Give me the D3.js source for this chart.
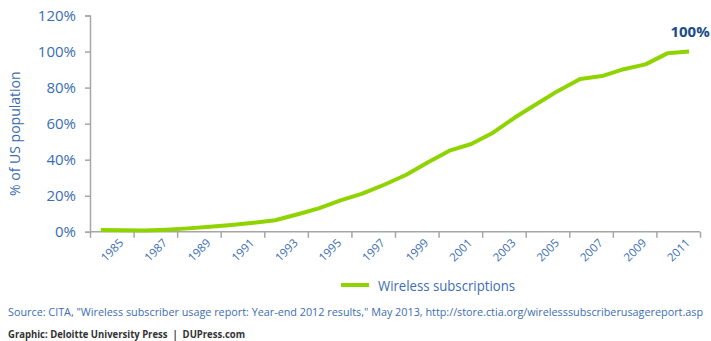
<!DOCTYPE html>
<html>
<head>
<meta charset="utf-8">
<script src="https://cdn.jsdelivr.net/npm/d3@7"></script>
<style>
  html, body { margin: 0; padding: 0; background: #fff; }
  svg { display: block; font-family: "Open Sans", "Noto Sans", sans-serif; }
</style>
</head>
<body>
<svg id="chart" width="711" height="341"></svg>
<script>
// Wireless subscriptions as a share of the US population, year-end figures
const years = d3.range(1985, 2013);
const penetration = [
  1.0, 0.8, 0.7, 1.2, 1.9, 2.8, 3.8, 5.0, 6.4, 9.6,
  13.0, 17.4, 21.2, 26.1, 31.5, 38.4, 45.0, 48.7, 55.0, 63.4,
  70.9, 78.3, 84.8, 86.4, 90.2, 92.9, 99.0, 100.0
];
const yTicks = [0, 20, 40, 60, 80, 100, 120];
const labelYears = d3.range(1985, 2013, 2);
const seriesName = "Wireless subscriptions";
const endLabel = "100%";
const sourceNote = "Source: CITA, \"Wireless subscriber usage report: Year-end 2012 results,\" May 2013, http://store.ctia.org/wirelesssubscriberusagereport.asp";
const creditNote = "Graphic: Deloitte University Press  |  DUPress.com";

const green = "#8fd400";
const blue = "#3b6db3";
const navy = "#1a4c8b";
const axisGray = "#a6a6a6";

const svg = d3.select("#chart");

// Each year occupies one band; points sit at band centres.
const x = d3.scaleLinear().domain([1984.5, 2012.5]).range([90, 700]);
const y = d3.scaleLinear().domain([0, 120]).range([231.8, 15.5]);

// Y axis
const yAxis = svg.append("g")
  .attr("transform", `translate(${x(1984.5)},0)`)
  .call(d3.axisLeft(y).tickValues(yTicks).tickSize(5).tickPadding(9).tickFormat(d => d + "%"));
yAxis.select(".domain").attr("stroke", axisGray).attr("stroke-width", 1.5);
yAxis.selectAll(".tick line").attr("stroke", axisGray).attr("stroke-width", 1.5);
yAxis.selectAll(".tick text")
  .attr("fill", blue).attr("font-size", 15).style("font-family", "'Open Sans', sans-serif");

// Y axis title
svg.append("text")
  .attr("transform", `translate(20,${(y(0) + y(120)) / 2 + 10}) rotate(-90)`)
  .attr("text-anchor", "middle")
  .attr("fill", blue)
  .attr("font-size", 14)
  .text("% of US population");

// X axis: tick marks between two-year groups
const boundaries = d3.range(1984.5, 2013, 2);
const xAxis = svg.append("g")
  .attr("transform", `translate(0,${y(0)})`)
  .call(d3.axisBottom(x).tickValues(boundaries).tickSize(6).tickFormat(""));
xAxis.select(".domain").attr("stroke", axisGray).attr("stroke-width", 1.5)
  .attr("d", `M${x(1984.5)},0H${x(2012.5)}`);
xAxis.selectAll(".tick line").attr("stroke", axisGray).attr("stroke-width", 1.5);

// X labels centred on each two-year group, rotated
svg.append("g").selectAll("text")
  .data(labelYears)
  .join("text")
  .attr("transform", d => `translate(${x(d + 0.5)},${y(0) + 18}) rotate(-45)`)
  .attr("text-anchor", "middle")
  .attr("dominant-baseline", "central")
  .attr("fill", blue)
  .attr("font-size", 11.5)
  .text(d => d);

// Series line
const line = d3.line()
  .x((d, i) => x(years[i]))
  .y(d => y(d));
svg.append("path")
  .datum(penetration)
  .attr("fill", "none")
  .attr("stroke", green)
  .attr("stroke-width", 4)
  .attr("stroke-linejoin", "round")
  .attr("d", line);

// End value label
const lastI = penetration.length - 1;
svg.append("text")
  .attr("x", x(years[lastI]) + 1)
  .attr("y", y(penetration[lastI]) - 15)
  .attr("text-anchor", "middle")
  .attr("fill", navy)
  .attr("font-size", 15)
  .attr("font-weight", "bold")
  .text(endLabel);

// Legend
const legend = svg.append("g").attr("transform", "translate(341,285)");
legend.append("line")
  .attr("x1", 0).attr("x2", 28).attr("y1", 0).attr("y2", 0)
  .attr("stroke", green).attr("stroke-width", 4);
legend.append("text")
  .attr("x", 37).attr("y", 0)
  .attr("dominant-baseline", "central")
  .attr("fill", blue)
  .attr("font-size", 14)
  .attr("textLength", 137)
  .attr("lengthAdjust", "spacingAndGlyphs")
  .text(seriesName);

// Notes
svg.append("text")
  .attr("x", 8).attr("y", 316)
  .attr("fill", blue)
  .attr("font-size", 10)
  .attr("textLength", 695)
  .attr("lengthAdjust", "spacingAndGlyphs")
  .text(sourceNote);

svg.append("text")
  .attr("x", 8).attr("y", 338)
  .attr("fill", "#333")
  .attr("font-size", 10.5)
  .attr("font-weight", "bold")
  .attr("textLength", 237)
  .attr("lengthAdjust", "spacingAndGlyphs")
  .style("white-space", "pre")
  .text(creditNote);
</script>
</body>
</html>
